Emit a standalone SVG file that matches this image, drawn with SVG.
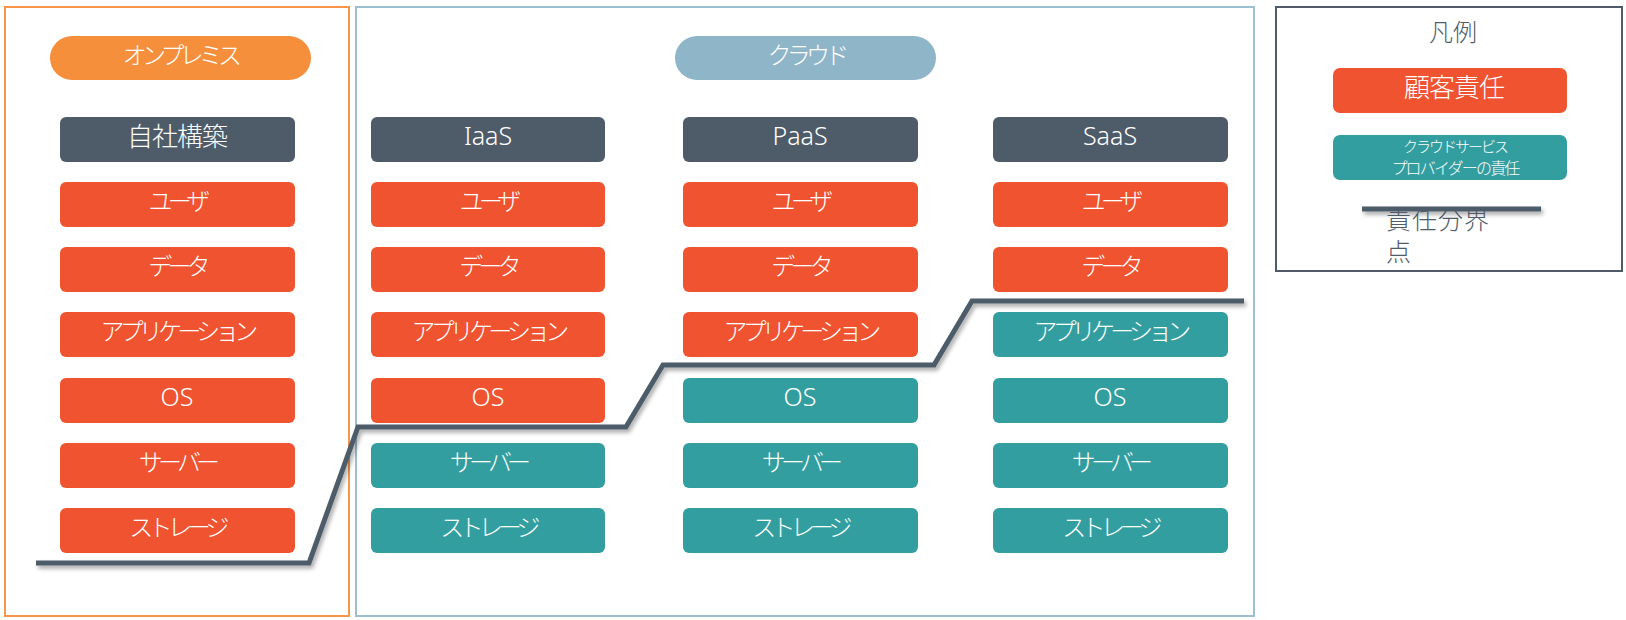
<svg xmlns="http://www.w3.org/2000/svg" width="1626" height="620" viewBox="0 0 1626 620">
<defs>
<style>
.t{font-family:"Noto Sans","Noto Sans CJK JP",sans-serif;font-weight:300;fill:#fff;text-anchor:middle;dominant-baseline:central}
.j{font-size:24px;letter-spacing:-4.8px}
.l{font-size:25px}
.r{fill:#F0532F}
.g{fill:#339E9F}
.h{fill:#4E5B69}
.frame{fill:#fff;stroke-width:2}
.gt{font-family:"Noto Sans","Noto Sans CJK JP",sans-serif;font-weight:300;fill:#4E5B69}
</style>
<filter id="sh" filterUnits="userSpaceOnUse" x="0" y="0" width="1626" height="620">
<feDropShadow dx="2" dy="3" stdDeviation="2" flood-color="#000" flood-opacity="0.35"/>
</filter>
</defs>
<rect width="1626" height="620" fill="#fff"/>
<!-- frames -->
<g id="onprem-frame"><rect class="frame" x="5" y="7" width="344" height="609" stroke="#F7964A"/></g>
<g id="cloud-frame"><rect class="frame" x="356" y="7" width="898" height="609" stroke="#9CC0D0"/></g>
<g id="legend">
<rect class="frame" x="1276" y="7" width="346" height="264" stroke="#4E5B69"/>
<text class="gt" x="1453" y="41" font-size="24" text-anchor="middle">凡例</text>
<rect class="r" x="1333" y="68" width="234" height="45" rx="7"/>
<text class="t" x="1454" y="87" font-size="26" letter-spacing="-1">顧客責任</text>
<rect class="g" x="1333" y="135" width="234" height="45" rx="7"/>
<text class="t" x="1455" y="146" font-size="15" letter-spacing="-2">クラウドサービス</text>
<text class="t" x="1455" y="168" font-size="16" letter-spacing="-1.8">プロバイダーの責任</text>
<line x1="1362" y1="209" x2="1541" y2="209" stroke="#4E5B69" stroke-width="5" filter="url(#sh)"/>
<text class="gt" x="1386" y="229" font-size="25" letter-spacing="1">責任分界</text>
<text class="gt" x="1386" y="261" font-size="25">点</text>
</g>
<!-- pills -->
<g id="pill-onprem"><rect x="50" y="36" width="261" height="44" rx="22" fill="#F58F3C"/><text class="t j" x="180" y="54">オンプレミス</text></g>
<g id="pill-cloud"><rect x="675" y="36" width="261" height="44" rx="22" fill="#8FB5C8"/><text class="t j" x="806" y="54">クラウド</text></g>
<!-- column: onprem -->
<g id="col-onprem">
<g id="onprem-head"><rect class="h" x="60" y="117" width="235" height="45" rx="6"/><text class="t" x="177" y="136" font-size="26" letter-spacing="-1">自社構築</text></g>
<g id="onprem-user"><rect class="r" x="60" y="182" width="235" height="45" rx="6"/><text class="t j" x="177" y="200">ユーザ</text></g>
<g id="onprem-data"><rect class="r" x="60" y="247" width="235" height="45" rx="6"/><text class="t j" x="177" y="265">データ</text></g>
<g id="onprem-app"><rect class="r" x="60" y="312" width="235" height="45" rx="6"/><text class="t j" x="177" y="330">アプリケーション</text></g>
<g id="onprem-os"><rect class="r" x="60" y="378" width="235" height="45" rx="6"/><text class="t l" x="177" y="396">OS</text></g>
<g id="onprem-server"><rect class="r" x="60" y="443" width="235" height="45" rx="6"/><text class="t j" x="177" y="461">サーバー</text></g>
<g id="onprem-storage"><rect class="r" x="60" y="508" width="235" height="45" rx="6"/><text class="t j" x="177" y="526">ストレージ</text></g>
</g>
<!-- column: IaaS -->
<g id="col-iaas">
<g id="iaas-head"><rect class="h" x="371" y="117" width="234" height="45" rx="6"/><text class="t l" x="488" y="135">IaaS</text></g>
<g id="iaas-user"><rect class="r" x="371" y="182" width="234" height="45" rx="6"/><text class="t j" x="488" y="200">ユーザ</text></g>
<g id="iaas-data"><rect class="r" x="371" y="247" width="234" height="45" rx="6"/><text class="t j" x="488" y="265">データ</text></g>
<g id="iaas-app"><rect class="r" x="371" y="312" width="234" height="45" rx="6"/><text class="t j" x="488" y="330">アプリケーション</text></g>
<g id="iaas-os"><rect class="r" x="371" y="378" width="234" height="45" rx="6"/><text class="t l" x="488" y="396">OS</text></g>
<g id="iaas-server"><rect class="g" x="371" y="443" width="234" height="45" rx="6"/><text class="t j" x="488" y="461">サーバー</text></g>
<g id="iaas-storage"><rect class="g" x="371" y="508" width="234" height="45" rx="6"/><text class="t j" x="488" y="526">ストレージ</text></g>
</g>
<!-- column: PaaS -->
<g id="col-paas">
<g id="paas-head"><rect class="h" x="683" y="117" width="235" height="45" rx="6"/><text class="t l" x="800" y="135">PaaS</text></g>
<g id="paas-user"><rect class="r" x="683" y="182" width="235" height="45" rx="6"/><text class="t j" x="800" y="200">ユーザ</text></g>
<g id="paas-data"><rect class="r" x="683" y="247" width="235" height="45" rx="6"/><text class="t j" x="800" y="265">データ</text></g>
<g id="paas-app"><rect class="r" x="683" y="312" width="235" height="45" rx="6"/><text class="t j" x="800" y="330">アプリケーション</text></g>
<g id="paas-os"><rect class="g" x="683" y="378" width="235" height="45" rx="6"/><text class="t l" x="800" y="396">OS</text></g>
<g id="paas-server"><rect class="g" x="683" y="443" width="235" height="45" rx="6"/><text class="t j" x="800" y="461">サーバー</text></g>
<g id="paas-storage"><rect class="g" x="683" y="508" width="235" height="45" rx="6"/><text class="t j" x="800" y="526">ストレージ</text></g>
</g>
<!-- column: SaaS -->
<g id="col-saas">
<g id="saas-head"><rect class="h" x="993" y="117" width="235" height="45" rx="6"/><text class="t l" x="1110" y="135">SaaS</text></g>
<g id="saas-user"><rect class="r" x="993" y="182" width="235" height="45" rx="6"/><text class="t j" x="1110" y="200">ユーザ</text></g>
<g id="saas-data"><rect class="r" x="993" y="247" width="235" height="45" rx="6"/><text class="t j" x="1110" y="265">データ</text></g>
<g id="saas-app"><rect class="g" x="993" y="312" width="235" height="45" rx="6"/><text class="t j" x="1110" y="330">アプリケーション</text></g>
<g id="saas-os"><rect class="g" x="993" y="378" width="235" height="45" rx="6"/><text class="t l" x="1110" y="396">OS</text></g>
<g id="saas-server"><rect class="g" x="993" y="443" width="235" height="45" rx="6"/><text class="t j" x="1110" y="461">サーバー</text></g>
<g id="saas-storage"><rect class="g" x="993" y="508" width="235" height="45" rx="6"/><text class="t j" x="1110" y="526">ストレージ</text></g>
</g>
<!-- connectors -->
<g id="connectors">
<path d="M36,563 L309,563 L358,427 L626,427 L663,365 L934,365 L972,301 L1244,301" fill="none" stroke="#4E5B69" stroke-width="5" filter="url(#sh)"/>
</g>
</svg>
